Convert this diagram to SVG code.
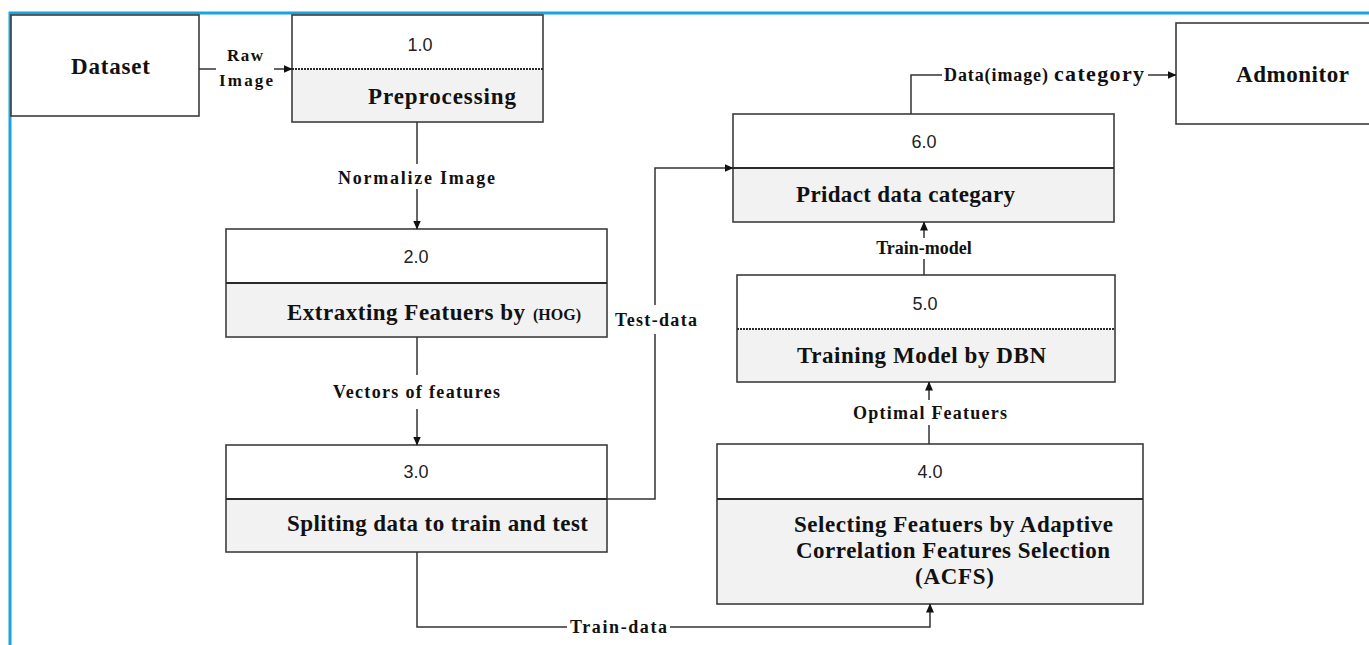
<svg xmlns="http://www.w3.org/2000/svg" width="1369" height="645" viewBox="0 0 1369 645">
  <defs>
    <marker id="arrow" markerWidth="9" markerHeight="8" refX="8.5" refY="4" orient="auto" markerUnits="userSpaceOnUse">
      <path d="M0,0 L9,4 L0,8 Z" fill="#111"/>
    </marker>
    <style>
      .box { fill: #ffffff; stroke: #3c3c3c; stroke-width: 1.6; }
      .low { fill: #f2f2f2; stroke: none; }
      .div { stroke: #2a2a2a; stroke-width: 2; }
      .dot { stroke: #2a2a2a; stroke-width: 2; stroke-dasharray: 2 1; }
      .num { font-family: "Liberation Sans", Arial, sans-serif; font-size: 18px; fill: #222; text-anchor: middle; }
      .ttl { font-family: "Liberation Serif", "Times New Roman", serif; font-size: 23px; font-weight: bold; fill: #111; }
      .lbl { font-family: "Liberation Serif", "Times New Roman", serif; font-size: 18px; font-weight: bold; fill: #111; }
      .small { font-size: 16px; }
      .raw { font-size: 17px; }
      .big { font-size: 22px; }
      .flow { fill: none; stroke: #333; stroke-width: 1.5; }
      .frame { stroke: #16a4e2; stroke-width: 3; fill: none; }
    </style>
  </defs>

  <rect width="1369" height="645" fill="#ffffff"/>

  <!-- outer frame -->
  <path class="frame" d="M10,645 L10,13 L1369,13"/>

  <!-- external entity: Dataset -->
  <g id="dataset">
    <rect class="box" x="11" y="15" width="188" height="101"/>
    <text class="ttl" x="71" y="74" textLength="79">Dataset</text>
  </g>

  <!-- external entity: Admonitor -->
  <g id="admonitor">
    <rect class="box" x="1176" y="23" width="200" height="101"/>
    <text class="ttl" x="1236" y="82" textLength="113">Admonitor</text>
  </g>

  <!-- process 1.0 -->
  <g id="p1">
    <rect class="box" x="292" y="15" width="251" height="107"/>
    <rect class="low" x="293" y="70" width="249" height="51"/>
    <line class="dot" x1="292" y1="69" x2="543" y2="69"/>
    <text class="num" x="420" y="51">1.0</text>
    <text class="ttl" x="368" y="104" textLength="148">Preprocessing</text>
  </g>

  <!-- process 2.0 -->
  <g id="p2">
    <rect class="box" x="226" y="229" width="381" height="108"/>
    <rect class="low" x="227" y="284" width="379" height="52"/>
    <line class="div" x1="226" y1="283" x2="607" y2="283" stroke="#555"/>
    <text class="num" x="416" y="263">2.0</text>
    <text class="ttl" x="287" y="320" textLength="238">Extraxting Featuers by</text>
    <text class="ttl small" x="533" y="320">(HOG)</text>
  </g>

  <!-- process 3.0 -->
  <g id="p3">
    <rect class="box" x="226" y="445" width="381" height="107"/>
    <rect class="low" x="227" y="500" width="379" height="51"/>
    <line class="div" x1="226" y1="499" x2="607" y2="499"/>
    <text class="num" x="416" y="478">3.0</text>
    <text class="ttl" x="287" y="531" textLength="301">Spliting data to train and test</text>
  </g>

  <!-- process 4.0 -->
  <g id="p4">
    <rect class="box" x="717" y="444" width="426" height="160"/>
    <rect class="low" x="718" y="500" width="424" height="103"/>
    <line class="div" x1="717" y1="499" x2="1143" y2="499"/>
    <text class="num" x="930" y="478">4.0</text>
    <text class="ttl" x="794" y="532" textLength="319">Selecting Featuers by Adaptive</text>
    <text class="ttl" x="796" y="558" textLength="314">Correlation Features Selection</text>
    <text class="ttl" x="915" y="584" textLength="79">(ACFS)</text>
  </g>

  <!-- process 5.0 -->
  <g id="p5">
    <rect class="box" x="737" y="275" width="378" height="107"/>
    <rect class="low" x="738" y="330" width="376" height="51"/>
    <line class="dot" x1="737" y1="329" x2="1115" y2="329"/>
    <text class="num" x="925" y="310">5.0</text>
    <text class="ttl" x="797" y="363" textLength="249">Training Model by DBN</text>
  </g>

  <!-- process 6.0 -->
  <g id="p6">
    <rect class="box" x="733" y="114" width="381" height="108"/>
    <rect class="low" x="734" y="169" width="379" height="52"/>
    <line class="div" x1="733" y1="168" x2="1114" y2="168"/>
    <text class="num" x="924" y="148">6.0</text>
    <text class="ttl" x="796" y="202" textLength="219">Pridact data categary</text>
  </g>

  <!-- data flows -->
  <g id="connectors">
    <!-- Dataset to 1.0 -->
    <line class="flow" x1="199" y1="69" x2="216" y2="69"/>
    <line class="flow" x1="274" y1="69" x2="292" y2="69" marker-end="url(#arrow)"/>
    <text class="lbl raw" x="227" y="61" textLength="36">Raw</text>
    <text class="lbl raw" x="219" y="86" textLength="54">Image</text>

    <!-- 1.0 to 2.0 -->
    <line class="flow" x1="417" y1="122" x2="417" y2="164"/>
    <line class="flow" x1="417" y1="189" x2="417" y2="229" marker-end="url(#arrow)"/>
    <text class="lbl" x="338" y="184" textLength="157">Normalize  Image</text>

    <!-- 2.0 to 3.0 -->
    <line class="flow" x1="417" y1="337" x2="417" y2="375"/>
    <line class="flow" x1="417" y1="409" x2="417" y2="445" marker-end="url(#arrow)"/>
    <text class="lbl" x="333" y="398" textLength="167">Vectors of features</text>

    <!-- 3.0 to 6.0 (test data) -->
    <polyline class="flow" points="607,499 655,499 655,334"/>
    <polyline class="flow" points="655,305 655,168 733,168" marker-end="url(#arrow)"/>
    <text class="lbl" x="615" y="326" textLength="82">Test-data</text>

    <!-- 3.0 to 4.0 (train data) -->
    <polyline class="flow" points="417,552 417,627 567,627"/>
    <polyline class="flow" points="670,627 930,627 930,604" marker-end="url(#arrow)"/>
    <text class="lbl" x="570" y="633" textLength="97">Train-data</text>

    <!-- 4.0 to 5.0 -->
    <line class="flow" x1="929" y1="444" x2="929" y2="425"/>
    <line class="flow" x1="929" y1="400" x2="929" y2="382" marker-end="url(#arrow)"/>
    <text class="lbl" x="853" y="419" textLength="154">Optimal Featuers</text>

    <!-- 5.0 to 6.0 -->
    <line class="flow" x1="924" y1="275" x2="924" y2="259"/>
    <line class="flow" x1="924" y1="238" x2="924" y2="222" marker-end="url(#arrow)"/>
    <text class="lbl" x="924" y="254" text-anchor="middle">Train-model</text>

    <!-- 6.0 to Admonitor -->
    <polyline class="flow" points="911,114 911,75 942,75"/>
    <line class="flow" x1="1148" y1="75" x2="1176" y2="75" marker-end="url(#arrow)"/>
    <text class="lbl" x="944" y="81" textLength="104">Data(image)</text>
    <text class="lbl big" x="1054" y="81" textLength="90">category</text>
  </g>
</svg>
